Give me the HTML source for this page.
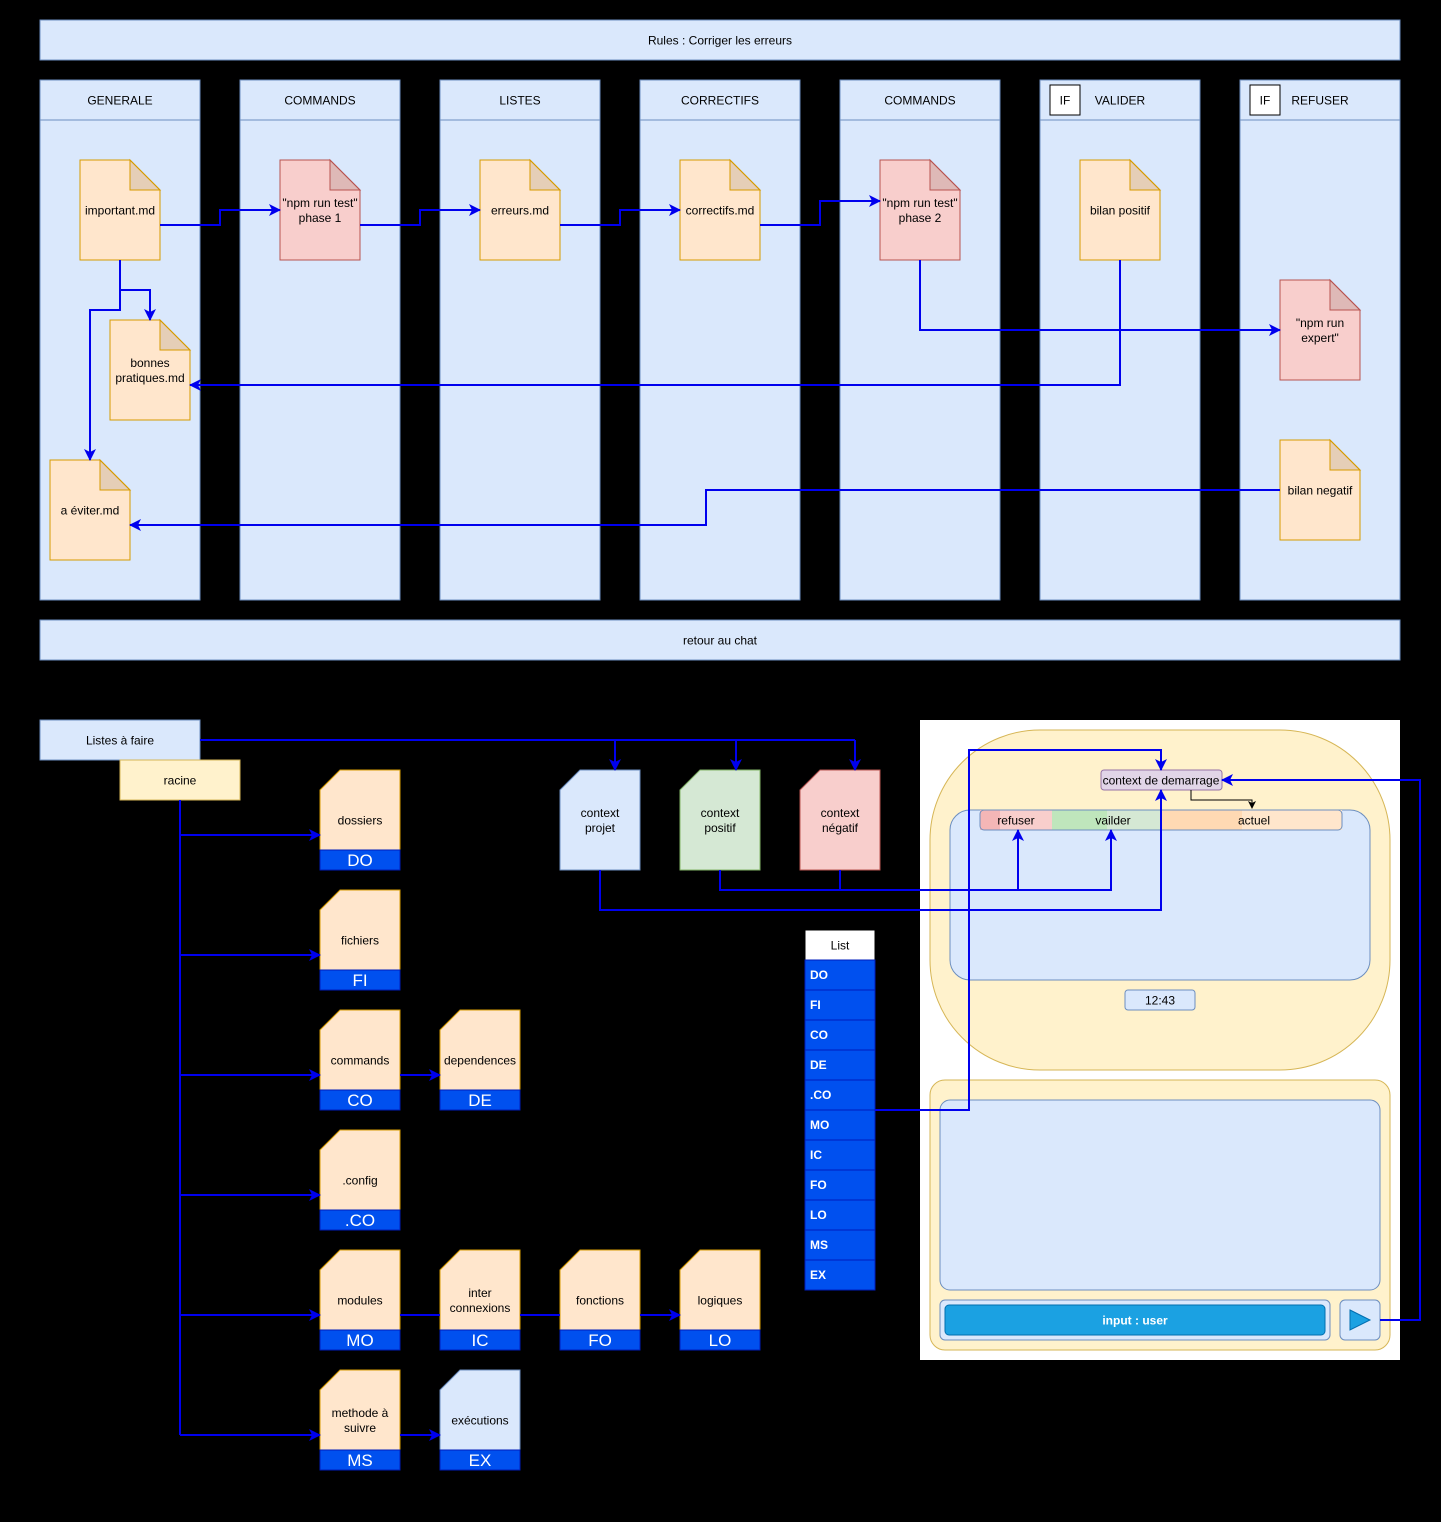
<!DOCTYPE html>
<html><head><meta charset="utf-8"><style>
html,body{margin:0;padding:0;background:#000}
svg{display:block}
text{font-family:"Liberation Sans",sans-serif;font-size:12px;fill:#000}
</style></head><body>
<svg id="s" width="1441" height="1522" viewBox="0 0 1441 1522" xmlns="http://www.w3.org/2000/svg">
<defs>
<marker id="ab" markerWidth="12" markerHeight="12" refX="11" refY="6" orient="auto" markerUnits="userSpaceOnUse"><path d="M0,0 L12,6 L0,12 L3,6 z" fill="#0000ee"/></marker>
<marker id="ak" markerWidth="8" markerHeight="8" refX="7" refY="4" orient="auto" markerUnits="userSpaceOnUse"><path d="M0,0 L8,4 L0,8 L2,4 z" fill="#000"/></marker>
</defs>
<g id="shapes"></g>
<g id="edges"></g>
</svg>
<script>
const NS='http://www.w3.org/2000/svg';
const S=document.getElementById('shapes'), E=document.getElementById('edges');
function mk(tag,attrs,parent){const e=document.createElementNS(NS,tag);for(const k in attrs)e.setAttribute(k,attrs[k]);(parent||S).appendChild(e);return e;}
function txt(x,y,lines,opt,name){opt=opt||{};const t=mk('text',{x:x,y:y,'text-anchor':'middle'});


if(opt.size)t.style.fontSize=opt.size+'px';if(opt.fill)t.style.fill=opt.fill;if(opt.bold)t.style.fontWeight='bold';
const lh=opt.lh||15;const off=opt.size?opt.size*0.36:4.5;lines.forEach((l,i)=>{const ts=mk('tspan',{x:x,y:y+(i-(lines.length-1)/2)*lh+off},t);ts.textContent=l;});return t;}
function rect(x,y,w,h,fill,stroke,name,rx){const r=mk('rect',{x:x,y:y,width:w,height:h,fill:fill,stroke:stroke,rx:rx||0});


return r;}
function doc(x,y,w,h,fill,stroke,lines,name){const g=mk('g',{});


mk('path',{d:`M${x},${y} H${x+w-30} L${x+w},${y+30} V${y+h} H${x} Z`,fill:fill,stroke:stroke},g);
mk('path',{d:`M${x+w-30},${y} V${y+30} H${x+w} Z`,fill:'rgba(0,0,0,0.1)',stroke:stroke},g);
txt(x+w/2,y+50,lines,{},name+'-label');return g;}
function card(x,y,fill,stroke,lines,code,name){const g=mk('g',{});


mk('path',{d:`M${x+20},${y} H${x+80} V${y+80} H${x} V${y+20} Z`,fill:fill,stroke:stroke},g);
mk('rect',{x:x,y:y+80,width:80,height:20,fill:'#0050ef',stroke:'#001dbc'},g);
txt(x+40,y+50,lines,{},name+'-label');
txt(x+40,y+90,[code],{size:17,fill:'#fff'},name+'-code');return g;}
function edge(pts,name,black){const p=mk('polyline',{points:pts.map(p=>p.join(',')).join(' '),fill:'none',stroke:black?'#000':'#0000ee','stroke-width':black?1:2,'marker-end':black?'url(#ak)':'url(#ab)'},E);

}
function line(pts,name){const p=mk('polyline',{points:pts.map(p=>p.join(',')).join(' '),fill:'none',stroke:'#0000ee','stroke-width':2},E);

}

const B='#dae8fc',BS='#6c8ebf',O='#ffe6cc',OS='#d79b00',R='#f8cecc',RS='#b85450';
rect(40,20,1360,40,B,BS,'rules-banner');txt(720,40,['Rules : Corriger les erreurs'],{},'rules-title');
const lanes=['GENERALE','COMMANDS','LISTES','CORRECTIFS','COMMANDS','VALIDER','REFUSER'];
lanes.forEach((l,i)=>{const x=40+i*200;rect(x,80,160,520,B,BS,'lane-'+l.toLowerCase());
const ln=mk('line',{x1:x,y1:120,x2:x+160,y2:120,stroke:BS});


txt(x+80,100,[l],{},'lane-title');
if(i>=5){rect(x+10,85,30,30,'#fff','#000','if-box');txt(x+25,100,['IF'],{},'if-label');}});
doc(80,160,80,100,O,OS,['important.md'],'important-md');
doc(280,160,80,100,R,RS,['"npm run test"','phase 1'],'npm-test-phase1');
doc(480,160,80,100,O,OS,['erreurs.md'],'erreurs-md');
doc(680,160,80,100,O,OS,['correctifs.md'],'correctifs-md');
doc(880,160,80,100,R,RS,['"npm run test"','phase 2'],'npm-test-phase2');
doc(1080,160,80,100,O,OS,['bilan positif'],'bilan-positif');
doc(1280,280,80,100,R,RS,['"npm run','expert"'],'npm-run-expert');
doc(110,320,80,100,O,OS,['bonnes','pratiques.md'],'bonnes-pratiques-md');
doc(50,460,80,100,O,OS,['a éviter.md'],'a-eviter-md');
doc(1280,440,80,100,O,OS,['bilan negatif'],'bilan-negatif');
rect(40,620,1360,40,B,BS,'retour-banner');txt(720,640,['retour au chat'],{},'retour-title');
edge([[160,225],[220,225],[220,210],[280,210]],'edge-important-phase1');
edge([[360,225],[420,225],[420,210],[480,210]],'edge-phase1-erreurs');
edge([[560,225],[620,225],[620,210],[680,210]],'edge-erreurs-correctifs');
edge([[760,225],[820,225],[820,201],[880,201]],'edge-correctifs-phase2');
edge([[920,260],[920,330],[1280,330]],'edge-phase2-expert');
edge([[1120,260],[1120,385],[190,385]],'edge-positif-bonnes');
edge([[120,260],[120,290],[150,290],[150,320]],'edge-important-bonnes');
edge([[120,290],[120,310],[90,310],[90,460]],'edge-important-eviter');
edge([[1280,490],[706,490],[706,525],[130,525]],'edge-negatif-eviter');

rect(40,720,160,40,B,BS,'listes-a-faire');txt(120,740,['Listes à faire'],{},'listes-label');
rect(120,760,120,40,'#fff2cc','#d6b656','racine');txt(180,780,['racine'],{},'racine-label');
const rows=[770,890,1010,1130,1250,1370];
card(320,770,O,OS,['dossiers'],'DO','card-dossiers');
card(320,890,O,OS,['fichiers'],'FI','card-fichiers');
card(320,1010,O,OS,['commands'],'CO','card-commands');
card(440,1010,O,OS,['dependences'],'DE','card-dependences');
card(320,1130,O,OS,['.config'],'.CO','card-config');
card(320,1250,O,OS,['modules'],'MO','card-modules');
card(440,1250,O,OS,['inter','connexions'],'IC','card-interconnexions');
card(560,1250,O,OS,['fonctions'],'FO','card-fonctions');
card(680,1250,O,OS,['logiques'],'LO','card-logiques');
card(320,1370,O,OS,['methode à','suivre'],'MS','card-methode');
card(440,1370,B,BS,['exécutions'],'EX','card-executions');
line([[180,800],[180,1435]],'racine-trunk');
rows.forEach(y=>edge([[180,y+65],[320,y+65]],'edge-racine-branch'));
edge([[400,1075],[440,1075]],'edge-commands-dependences');
line([[400,1315],[440,1315]],'edge-modules-ic');
line([[520,1315],[560,1315]],'edge-ic-fo');
edge([[640,1315],[680,1315]],'edge-fo-lo');
edge([[400,1435],[440,1435]],'edge-methode-executions');

function ctx(x,fill,stroke,lines,name){const g=mk('g',{});


mk('path',{d:`M${x+20},770 H${x+80} V870 H${x} V790 Z`,fill:fill,stroke:stroke},g);
txt(x+40,820,lines,{},name+'-label');}
ctx(560,B,BS,['context','projet'],'context-projet');
ctx(680,'#d5e8d4','#82b366',['context','positif'],'context-positif');
ctx(800,R,RS,['context','négatif'],'context-negatif');
line([[200,740],[855,740]],'listes-line');
edge([[615,740],[615,770]],'edge-to-projet');
edge([[736,740],[736,770]],'edge-to-positif');
edge([[855,740],[855,770]],'edge-to-negatif');

const listItems=['DO','FI','CO','DE','.CO','MO','IC','FO','LO','MS','EX'];
rect(805,930,70,30,'#fff','#000','list-header');txt(840,945,['List'],{},'list-title');
listItems.forEach((c,i)=>{rect(805,960+i*30,70,30,'#0050ef','#001dbc','list-item-'+c.replace('.','dot').toLowerCase());
const t=mk('text',{x:810,y:979+i*30});


t.textContent=c;t.style.fill='#fff';t.style.fontWeight='bold';});

rect(920,720,480,640,'#fff','none','chat-panel-bg');
rect(930,730,460,340,'#fff2cc','#d6b656','chat-window',110);
rect(950,810,420,170,B,BS,'message-area',20);
rect(980,810,72,20,'#f8cecc','none','tab-refuser');rect(980,810,20,20,'#f4b6b6','none','tab-refuser-accent');
rect(1052,810,110,20,'#d5e8d4','none','tab-vailder');rect(1052,810,55,20,'#bfe6bc','none','tab-vailder-accent');
rect(1162,810,180,20,'#ffe6cc','none','tab-actuel');rect(1162,810,80,20,'#ffd9b3','none','tab-actuel-accent');
rect(980,810,362,20,'none',BS,'tab-bar',4);
txt(1016,820,['refuser'],{},'tab-refuser-label');txt(1113,820,['vailder'],{},'tab-vailder-label');txt(1254,820,['actuel'],{},'tab-actuel-label');
rect(1101,770,121,20,'#e1d5e7','#9673a6','context-demarrage',3);txt(1161,780,['context de demarrage'],{},'context-demarrage-label');
rect(1125,990,70,20,B,BS,'timestamp',3);txt(1160,1000,['12:43'],{},'timestamp-label');
rect(930,1080,460,270,'#fff2cc','#d6b656','input-panel',15);
rect(940,1100,440,190,B,BS,'text-area',10);
rect(940,1300,390,40,B,BS,'input-wrapper',5);
rect(945,1305,380,30,'#1ba1e2','#006eaf','input-user',4);
txt(1135,1320,['input : user'],{fill:'#fff',bold:true},'input-user-label');
rect(1340,1300,40,40,B,BS,'send-button',5);
const tri=mk('path',{d:'M1350,1310 L1370,1320 L1350,1330 Z',fill:'#1ba1e2',stroke:'#006eaf'});



edge([[1191,790],[1191,800],[1252,800],[1252,808]],'edge-demarrage-actuel',true);
edge([[720,870],[720,890],[1111,890],[1111,830]],'edge-positif-vailder');
edge([[840,870],[840,890],[1018,890],[1018,830]],'edge-negatif-refuser');
edge([[600,870],[600,910],[1161,910],[1161,790]],'edge-projet-demarrage');
edge([[875,1110],[969,1110],[969,750],[1161,750],[1161,770]],'edge-config-demarrage');
edge([[1380,1320],[1420,1320],[1420,780],[1222,780]],'edge-send-demarrage');
</script>
</body></html>
